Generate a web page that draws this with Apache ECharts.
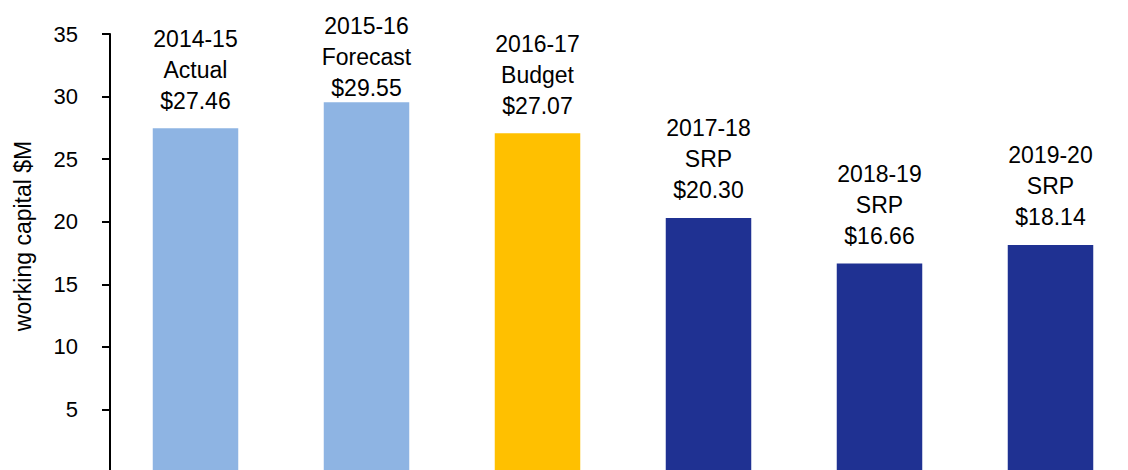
<!DOCTYPE html>
<html>
<head>
<meta charset="utf-8">
<script src="https://cdn.jsdelivr.net/npm/echarts@6/dist/echarts.min.js"></script>
<style>
html,body{margin:0;padding:0;background:#fff;}
#chart{width:1128px;height:470px;}
</style>
</head>
<body>
<div id="chart"></div>
<script>
const years = ['2014-15', '2015-16', '2016-17', '2017-18', '2018-19', '2019-20'];
const kinds = ['Actual', 'Forecast', 'Budget', 'SRP', 'SRP', 'SRP'];
const values = [27.46, 29.55, 27.07, 20.30, 16.66, 18.14];
const yTicks = [0, 5, 10, 15, 20, 25, 30, 35];
const barColors = ['#8EB4E3', '#8EB4E3', '#FFC000', '#1F3192', '#1F3192', '#1F3192'];

const FONT = 'Liberation Sans';
const chart = echarts.init(document.getElementById('chart'), null, {renderer: 'svg'});
chart.setOption({
  animation: false,
  backgroundColor: '#fff',
  grid: {left: 110, top: 34, width: 1026, height: 438, outerBoundsMode: 'none'},
  xAxis: {
    type: 'category',
    data: years,
    axisLine: {show: false},
    axisTick: {show: false},
    axisLabel: {show: false}
  },
  yAxis: {
    type: 'value',
    min: yTicks[0],
    max: yTicks[yTicks.length - 1],
    interval: 5,
    name: 'working capital $M',
    nameLocation: 'middle',
    nameGap: 76,
    nameTextStyle: {fontFamily: FONT, fontSize: 23, color: '#000', padding: [0, 0, 0, 34]},
    axisLine: {show: true, lineStyle: {color: '#000', width: 2}},
    axisTick: {show: true, inside: false, length: 8, lineStyle: {color: '#000', width: 2}},
    splitLine: {show: false},
    axisLabel: {
      fontFamily: FONT, fontSize: 22, color: '#000', margin: 32,
      formatter: v => (v === 0 ? '' : String(v))
    }
  },
  series: [{
    type: 'bar',
    barWidth: '50%',
    data: values.map((v, i) => {
      const item = {value: v, itemStyle: {color: barColors[i]}};
      // the tallest bar's label is pushed down to stay inside the chart top
      if (i === 1) item.label = {offset: [0, 13]};
      return item;
    }),
    label: {
      show: true,
      position: 'top',
      distance: 12,
      fontFamily: FONT,
      fontSize: 23,
      lineHeight: 31,
      color: '#000',
      align: 'center',
      formatter: p => years[p.dataIndex] + '\n' + kinds[p.dataIndex] + '\n$' + values[p.dataIndex].toFixed(2)
    }
  }]
});
</script>
</body>
</html>
